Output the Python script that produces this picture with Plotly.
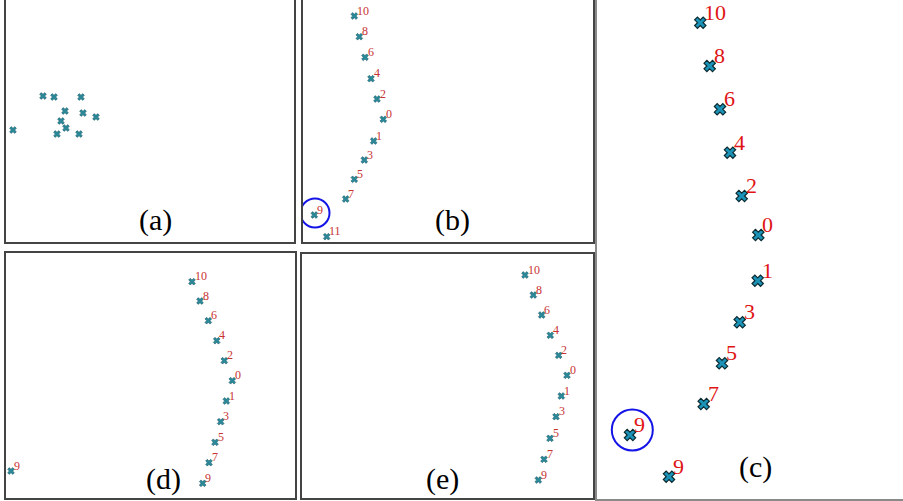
import plotly.graph_objects as go

# Canvas
W, H = 903, 501

# ---- Embedding coordinates per panel (panel units, origin bottom-left) ----
# (a) raw embedding, no labels
a_x = [37, 48, 75, 59, 77, 90, 55, 60, 7, 51, 73]
a_y = [146, 145, 145, 131, 129, 125, 121, 114, 112, 108, 108]

# (b)
b_lbl = ["10", "8", "6", "4", "2", "0", "1", "3", "5", "7", "9", "11"]
b_x = [51.3, 56.3, 62.0, 68.0, 74.0, 80.3, 70.7, 61.3, 51.3, 42.7, 11.3, 23.7]
b_y = [226.0, 205.3, 184.7, 163.3, 143.0, 122.7, 101.0, 82.0, 62.7, 43.0, 27.0, 5.3]
b_circled = 10

# (d)
d_lbl = ["10", "8", "6", "4", "2", "0", "1", "3", "5", "7", "9", "9"]
d_x = [186.0, 194.0, 202.3, 210.7, 218.3, 226.3, 220.3, 214.7, 209.0, 203.0, 196.7, 5.0]
d_y = [216.3, 197.0, 177.3, 157.3, 137.3, 117.3, 97.0, 76.3, 55.7, 35.3, 14.7, 27.0]

# (e)
e_lbl = ["10", "8", "6", "4", "2", "0", "1", "3", "5", "7", "9"]
e_x = [223.0, 231.3, 239.7, 248.3, 256.7, 265.0, 259.3, 254.0, 248.0, 242.0, 236.3]
e_y = [223.0, 203.0, 183.0, 162.7, 142.7, 122.7, 102.0, 81.3, 59.7, 38.7, 18.0]

# (c)
c_lbl = ["10", "8", "6", "4", "2", "0", "1", "3", "5", "7", "9", "9"]
c_x = [103.3, 112.7, 123.0, 133.0, 144.7, 161.3, 160.7, 142.7, 125.0, 106.7, 33.0, 72.0]
c_y = [476.3, 433.0, 389.7, 346.3, 303.0, 264.0, 218.3, 176.7, 135.7, 95.0, 64.0, 22.3]
c_circled = 10

# Panel frames in canvas pixels: left, top, right, bottom
panels = {
    "a": dict(box=(6, 0, 294, 242), title_xy=(149, 22)),
    "b": dict(box=(303, 0, 593, 242), title_xy=(149, 22)),
    "d": dict(box=(6, 253, 295, 498), title_xy=(157, 19)),
    "e": dict(box=(302, 254, 593, 498), title_xy=(140, 19)),
    "c": dict(box=(597, 0, 903, 499), title_xy=(158, 32)),
}

fig = go.Figure()
layout = dict(
    width=W, height=H,
    margin=dict(l=0, r=0, t=0, b=0),
    paper_bgcolor="white", plot_bgcolor="white",
    showlegend=False,
    shapes=[], annotations=[],
)

serif = "Liberation Serif"
small_marker = dict(symbol="x", size=6, color="#2a8a9a",
                    line=dict(width=0.5, color="#1d4e5c"))
big_marker = dict(symbol="x", size=10, color="#1b93b8",
                  line=dict(width=1.2, color="#0b2a30"))

order = ["a", "b", "d", "e", "c"]
for i, key in enumerate(order, start=1):
    l, t, r, b = panels[key]["box"]
    w, h = r - l, b - t
    xs = "" if i == 1 else str(i)
    xname, yname = "xaxis" + xs, "yaxis" + xs
    top_open = key in ("a", "b", "c")
    frame_col = "#8a8a8a" if key == "c" else "#444444"
    frame_w = 2 if key == "c" else 1.5
    layout[xname] = dict(domain=[l / W, r / W], range=[0, w], anchor="y" + xs,
                         showgrid=False, zeroline=False, showticklabels=False,
                         ticks="", showline=True, linecolor=frame_col,
                         linewidth=frame_w, mirror=not top_open, fixedrange=True)
    layout[yname] = dict(domain=[1 - b / H, 1 - t / H], range=[0, h], anchor="x" + xs,
                         showgrid=False, zeroline=False, showticklabels=False,
                         ticks="", showline=True, linecolor=frame_col,
                         linewidth=frame_w, mirror=(key != "c"), fixedrange=True)
    tx, ty = panels[key]["title_xy"]
    layout["annotations"].append(dict(
        x=tx, y=ty, xref="x" + xs, yref="y" + xs, text="(%s)" % key,
        showarrow=False, font=dict(family=serif, size=30, color="black"),
        xanchor="center", yanchor="middle"))
    panels[key]["ref"] = xs


def add_points(key, xs_, ys_, labels, marker, fsize, fcol, dx, dy):
    ref = panels[key]["ref"]
    fig.add_trace(go.Scatter(
        x=xs_, y=ys_, mode="markers", marker=marker,
        cliponaxis=False, hoverinfo="skip",
        xaxis="x" + ref, yaxis="y" + ref))
    if not labels:
        return
    # superscript-style index labels just up and right of each point
    for px, py, s in zip(xs_, ys_, labels):
        layout["annotations"].append(dict(
            x=px + dx, y=py + dy, xref="x" + ref, yref="y" + ref, text=s,
            showarrow=False, xanchor="left", yanchor="middle",
            font=dict(family=serif, size=fsize, color=fcol), borderpad=0))


add_points("a", a_x, a_y, None, small_marker, 12, "#c83232", 0, 0)
add_points("b", b_x, b_y, b_lbl, small_marker, 12, "#c83232", 1.5, 5.5)
add_points("d", d_x, d_y, d_lbl, small_marker, 12, "#c83232", 1.5, 5.5)
add_points("e", e_x, e_y, e_lbl, small_marker, 12, "#c83232", 1.5, 5.5)
add_points("c", c_x, c_y, c_lbl, big_marker, 22, "#e01414", 3.0, 10.5)


# Highlight rings around the outlying "9"
def ring(key, px, py, rad, dx=0.0, dy=0.0):
    ref = panels[key]["ref"]
    cx, cy = px + dx, py + dy
    layout["shapes"].append(dict(
        type="circle", xref="x" + ref, yref="y" + ref,
        x0=cx - rad, x1=cx + rad, y0=cy - rad, y1=cy + rad,
        line=dict(color="#1414e6", width=2)))


ring("b", b_x[b_circled], b_y[b_circled], 14.5, 0.7, 2.0)
ring("c", c_x[c_circled], c_y[c_circled], 20.5, 2.3, 5.0)

fig.update_layout(**layout)
fig.write_html("out.html")
